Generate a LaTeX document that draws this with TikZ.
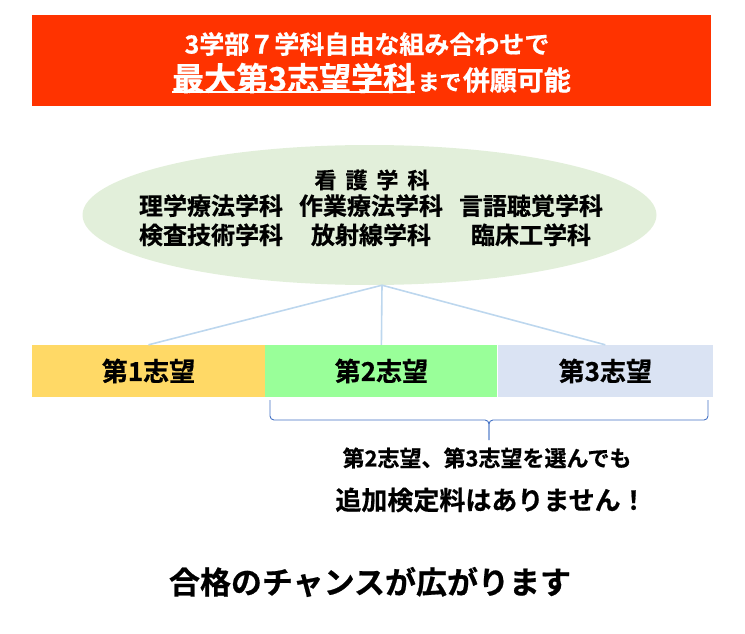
\documentclass[tikz,border=0pt]{standalone}
\usepackage{fontspec}
\setmainfont{Noto Sans CJK JP}[BoldFont={Noto Sans CJK JP Bold},BoldFeatures={FakeBold=0.6}]
\usepackage{tikz}
\usetikzlibrary{positioning,shapes.geometric}
\definecolor{titlered}{HTML}{FF3300}
\definecolor{ovalgreen}{HTML}{E2EFDA}
\definecolor{firstyellow}{HTML}{FFD966}
\definecolor{secondgreen}{HTML}{99FF99}
\definecolor{thirdblue}{HTML}{DAE3F3}
\definecolor{linkblue}{HTML}{BDD7EE}
\definecolor{braceblue}{HTML}{4472C4}
\newcommand{\jpsize}[1]{\fontsize{#1}{#1}\selectfont}

\begin{document}
\begin{tikzpicture}[x=1pt,y=1pt,
  every node/.style={inner sep=0pt,font=\bfseries},
  choice/.style={minimum height=52pt,font=\bfseries\jpsize{26}},
  link/.style={linkblue,line width=1.6pt},
  brace/.style={braceblue,line width=0.9pt,rounded corners=4pt}]
\useasboundingbox (0,0) rectangle (745,-634);
% header
\fill [titlered] (32,-15) rectangle (711,-106);
\node [white,font=\bfseries\jpsize{25}] (title1) at (367,-44) {3学部７学科自由な組み合わせで};
\node [white,anchor=west,font=\bfseries\jpsize{32}] (title2a) at (172,-78) {最大第3志望学科};
\node [white,anchor=base west,font=\bfseries\jpsize{22}] (title2b) at ([xshift=2pt]title2a.base east) {まで};
\node [white,anchor=base west,font=\bfseries\jpsize{27}] (title2c) at ([xshift=1pt]title2b.base east) {併願可能};
\draw [white,line width=2pt] ([yshift=1pt]title2a.south west) -- ([yshift=1pt]title2a.south east);
% courses
\node [ellipse,fill=ovalgreen,minimum width=574pt,minimum height=140pt] (courses) at (369.5,-215) {};
\node [font=\bfseries\jpsize{22}] (nursing) at (372,-180) {看\hspace{9pt}護\hspace{9pt}学\hspace{9pt}科};
\node [font=\bfseries\fontsize{24}{29}\selectfont] (others) at (371,-223.5)
  {\begin{tabular}{@{}c@{\hspace{16pt}}c@{\hspace{16pt}}c@{}}
   理学療法学科 & 作業療法学科 & 言語聴覚学科\\
   検査技術学科 & 放射線学科 & 臨床工学科
   \end{tabular}};
% choices
\node [choice,fill=firstyellow,minimum width=233pt] (first) at (148.5,-371) {第1志望};
\node [choice,fill=secondgreen,minimum width=232pt,right=0pt of first] (second) {第2志望};
\node [choice,fill=thirdblue,minimum width=215pt,right=0pt of second] (third) {第3志望};
\coordinate (apex) at ([xshift=12.5pt]courses.south);
\draw [link] (apex) -- (first.north);
\draw [link] (apex) -- (second.north);
\draw [link] (apex) -- (third.north);
% brace
\draw [brace] (270,-400) |- (489,-420) -- (489,-440);
\draw [brace] (708,-400) |- (489,-420) -- (489,-440);
\node [font=\bfseries\jpsize{22}] (nofee1) at (487,-458) {第2志望、第3志望を選んでも};
\node [font=\bfseries\jpsize{26}] (nofee2) at (491,-500) {追加検定料はありません！};
\node [font=\bfseries\jpsize{31}] (chance) at (370,-582) {合格のチャンスが広がります};
\end{tikzpicture}
\end{document}
